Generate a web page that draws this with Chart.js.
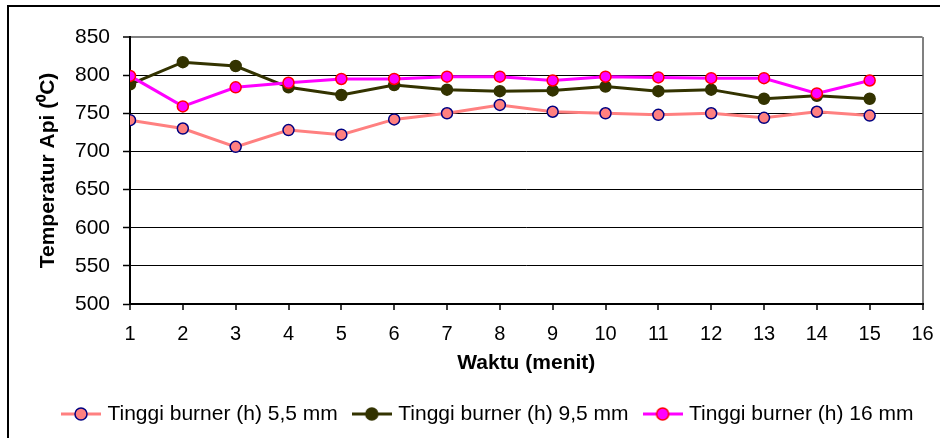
<!DOCTYPE html>
<html>
<head>
<meta charset="utf-8">
<script src="https://cdn.jsdelivr.net/npm/chart.js@4.4.1/dist/chart.umd.min.js"></script>
<style>
  html, body { margin: 0; padding: 0; background: #ffffff; }
  #wrap { width: 940px; height: 438px; }
</style>
</head>
<body>
<div id="wrap"><canvas id="c" width="940" height="438"></canvas></div>
<script>
// ---- data ----
const minutes = [1, 2, 3, 4, 5, 6, 7, 8, 9, 10, 11, 12, 13, 14, 15];
const burner55 = [741, 730, 706, 728, 722, 742, 750, 761, 752, 750, 748, 750, 744, 752, 747];
const burner95 = [788, 817, 812, 784, 774, 787, 781, 779, 780, 785, 779, 781, 769, 773, 769];
const burner16 = [799, 759, 784, 790, 795, 795, 798, 798, 793, 798, 797, 796, 796, 776, 793];
const seriesLabels = ['Tinggi burner (h) 5,5 mm', 'Tinggi burner (h) 9,5 mm', 'Tinggi burner (h) 16 mm'];
const xTickMin = 1, xTickMax = 16;
const yTickMin = 500, yTickMax = 850, yStep = 50;
const xTitle = 'Waktu (menit)';
const yTitle = 'Temperatur Api (\u2070C)';

// ---- styles ----
const styles = [
  { line: '#FF8080', fill: '#FF8080', border: '#000080', order: 2 },
  { line: '#333300', fill: '#333300', border: '#333300', order: 1 },
  { line: '#FF00FF', fill: '#FF00FF', border: '#FF0000', order: 0 }
];
const seriesValues = [burner55, burner95, burner16];

function legendImage(s) {
  const cv = document.createElement('canvas');
  cv.width = 40; cv.height = 16;
  const g = cv.getContext('2d');
  g.strokeStyle = s.line; g.lineWidth = 3;
  g.beginPath(); g.moveTo(0, 8); g.lineTo(40, 8); g.stroke();
  g.beginPath(); g.arc(20, 8, 6, 0, Math.PI * 2);
  g.fillStyle = s.fill; g.fill();
  g.lineWidth = 1.5; g.strokeStyle = s.border; g.stroke();
  return cv;
}
const legendImages = styles.map(legendImage);

const datasets = seriesValues.map((vals, i) => ({
  label: seriesLabels[i],
  data: minutes.map((m, j) => ({ x: m, y: vals[j] })),
  borderColor: styles[i].line,
  backgroundColor: styles[i].fill,
  borderWidth: 3,
  pointRadius: 5.5,
  pointHoverRadius: 5.5,
  pointBorderWidth: 1.5,
  pointBackgroundColor: styles[i].fill,
  pointBorderColor: styles[i].border,
  pointStyle: 'circle',
  tension: 0,
  order: styles[i].order
}));

const frameAndLegendShift = {
  id: 'frameAndLegendShift',
  afterLayout(chart) {
    const lg = chart.legend;
    if (lg) { lg.left += 23; lg.right += 23; }
  },
  beforeDraw(chart) {
    const g = chart.ctx;
    g.save();
    g.fillStyle = '#ffffff';
    g.fillRect(0, 0, chart.width, chart.height);
    g.strokeStyle = '#000000';
    g.lineWidth = 2;
    g.beginPath();
    g.moveTo(8, chart.height + 5);
    g.lineTo(8, 6);
    g.lineTo(chart.width + 5, 6);
    g.stroke();
    g.restore();
  }
};

new Chart(document.getElementById('c'), {
  type: 'line',
  data: { datasets },
  plugins: [frameAndLegendShift],
  options: {
    responsive: false,
    devicePixelRatio: 1,
    animation: false,
    events: [],
    layout: { padding: { left: 10, right: 17.5, top: 37, bottom: 3.5 } },
    plugins: {
      tooltip: { enabled: false },
      legend: {
        position: 'bottom',
        align: 'center',
        labels: {
          usePointStyle: true,
          pointStyleWidth: 32,
          padding: 18,
          color: '#000000',
          font: { family: '"Liberation Sans", Arial, sans-serif', size: 21 },
          sort: (a, b) => a.datasetIndex - b.datasetIndex,
          generateLabels(chart) {
            const items = Chart.defaults.plugins.legend.labels.generateLabels(chart);
            items.forEach((it) => { it.pointStyle = legendImages[it.datasetIndex]; });
            return items;
          }
        }
      }
    },
    scales: {
      x: {
        type: 'linear',
        min: xTickMin,
        max: xTickMax,
        offset: false,
        afterFit(scale) { scale.height = 81.5; scale.paddingLeft = 0; scale.paddingRight = 0; },
        border: { display: true, color: '#000000', width: 2 },
        grid: {
          drawOnChartArea: true,
          drawTicks: true,
          tickLength: 6,
          tickColor: '#000000',
          tickWidth: 1.5,
          color: (ctx) => (ctx.tick && ctx.tick.value === xTickMax ? '#808080' : 'rgba(0,0,0,0)'),
          lineWidth: 2
        },
        ticks: {
          stepSize: 1,
          autoSkip: false,
          maxRotation: 0,
          padding: 12,
          color: '#000000',
          font: { family: '"Liberation Sans", Arial, sans-serif', size: 20 }
        },
        title: {
          display: true,
          text: xTitle,
          color: '#000000',
          padding: { top: 0, bottom: 10 },
          font: { family: '"Liberation Sans", Arial, sans-serif', size: 21, weight: 'bold' }
        }
      },
      y: {
        min: yTickMin,
        max: yTickMax,
        afterFit(scale) { scale.width = 120; },
        border: { display: true, color: '#000000', width: 2 },
        grid: {
          drawTicks: true,
          tickLength: 7,
          tickColor: '#000000',
          tickWidth: 1.5,
          color: (ctx) => (ctx.tick && ctx.tick.value === yTickMax ? '#808080' : '#000000'),
          lineWidth: (ctx) => (ctx.tick && ctx.tick.value === yTickMax ? 2 : 1)
        },
        ticks: {
          stepSize: yStep,
          padding: 13,
          color: '#000000',
          font: { family: '"Liberation Sans", Arial, sans-serif', size: 21 }
        },
        title: {
          display: true,
          text: yTitle,
          color: '#000000',
          padding: { top: 26, bottom: 0 },
          font: { family: '"Liberation Sans", Arial, sans-serif', size: 21, weight: 'bold' }
        }
      }
    }
  }
});
</script>
</body>
</html>
